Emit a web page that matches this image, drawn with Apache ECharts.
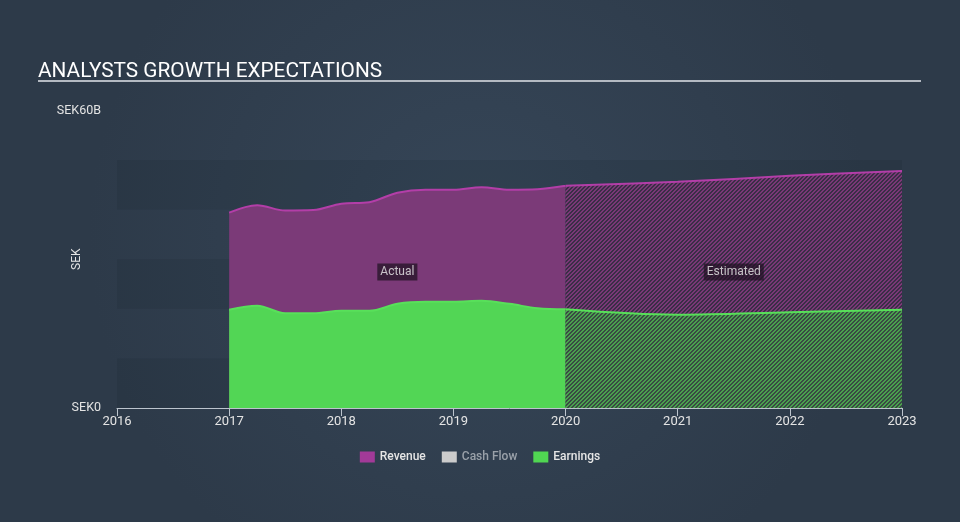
<!DOCTYPE html>
<html>
<head>
<meta charset="utf-8">
<script src="https://cdn.jsdelivr.net/npm/echarts@6/dist/echarts.min.js"></script>
<style>
html,body{margin:0;padding:0;background:#313f4f;}
#chart{width:960px;height:522px;}
</style>
</head>
<body>
<div id="chart"></div>
<script>
// ---- data (values in SEK billions, x in years) ----
var actualYears = [2017, 2017.25, 2017.5, 2017.75, 2018, 2018.25, 2018.5, 2018.75, 2019, 2019.25, 2019.5, 2019.75, 2020];
var revenueActual = [39.4, 40.9, 39.8, 39.9, 41.2, 41.5, 43.4, 44.0, 44.0, 44.5, 44.0, 44.1, 44.8];
var earningsActual = [19.8, 20.6, 19.1, 19.1, 19.6, 19.6, 21.0, 21.4, 21.4, 21.6, 21.0, 20.1, 19.9];
var estimateYears = [2020, 2021, 2022, 2023];
var revenueEstimate = [44.8, 45.6, 46.8, 47.8];
var earningsEstimate = [19.9, 18.8, 19.3, 19.8];
var bandRanges = [[0, 10], [20, 30], [40, 50]];
var periodLabels = ['Actual', 'Estimated'];
var periodLabelX = [2018.5, 2021.5];
var periodLabelY = 27.4;
var legendNames = ['Revenue', 'Cash Flow', 'Earnings'];

function pairs(xs, ys) { return xs.map(function (x, i) { return [x, ys[i]]; }); }

function hatch(light, dark) {
  var c = document.createElement('canvas');
  c.width = 8; c.height = 8;
  var ctx = c.getContext('2d');
  for (var y = 0; y < 8; y++) {
    for (var x = 0; x < 8; x++) {
      ctx.fillStyle = (((x + y) % 4) < 2) ? light : dark;
      ctx.fillRect(x, y, 1, 1);
    }
  }
  return { image: c, repeat: 'repeat' };
}

var purpleHatch = hatch('#7a3877', '#3a2e46');
var greenHatch = hatch('#4aa04e', '#394a43');

var chart = echarts.init(document.getElementById('chart'), null, { renderer: 'canvas' });

var option = {
  backgroundColor: {
    type: 'radial', x: 0.5, y: 0.45, r: 0.75,
    colorStops: [{ offset: 0, color: '#364658' }, { offset: 1, color: '#2d3a49' }]
  },
  animation: false,
  title: {
    text: 'ANALYSTS GROWTH EXPECTATIONS',
    left: 33, top: 56,
    textStyle: { color: '#ffffff', fontSize: 20.8, fontWeight: 'normal', fontFamily: 'Roboto' }
  },
  graphic: [{
    type: 'line', shape: { x1: 38, y1: 81, x2: 921, y2: 81 },
    style: { stroke: '#b4bac2', lineWidth: 2 }, silent: true
  }],
  legend: {
    bottom: 54, left: 'center',
    icon: 'rect', itemWidth: 15, itemHeight: 11, itemGap: 16,
    textStyle: { color: '#e6e6e6', fontSize: 12, fontFamily: 'Roboto', fontWeight: 500 },
    data: [
      { name: legendNames[0] },
      { name: legendNames[1], textStyle: { color: '#9aa1a9' } },
      { name: legendNames[2] }
    ],
    selectedMode: false
  },
  grid: { left: 117, right: 58, top: 110.4, bottom: 114, containLabel: false },
  xAxis: {
    type: 'value', min: 2016, max: 2023, interval: 1,
    axisLine: { show: true, lineStyle: { color: '#bcc4cd', width: 1 } },
    axisTick: { show: true, length: 8, lineStyle: { color: '#bcc4cd' } },
    axisLabel: { color: '#e4e4e4', fontSize: 13, fontFamily: 'Roboto', margin: 7,
      formatter: function (v) { return String(Math.round(v)); } },
    splitLine: { show: false }
  },
  yAxis: {
    type: 'value', min: 0, max: 60, interval: 60,
    name: 'SEK', nameLocation: 'middle', nameRotate: 90, nameGap: 34, nameMoveOverlap: false,
    nameTextStyle: { color: '#e4e4e4', fontSize: 12, fontFamily: 'Roboto' },
    axisLine: { show: false }, axisTick: { show: false },
    axisLabel: { color: '#e4e4e4', fontSize: 12.5, fontFamily: 'Roboto', margin: 16,
      formatter: function (v) { return v === 0 ? 'SEK0' : 'SEK' + v + 'B'; } },
    splitLine: { show: false }
  },
  series: [
    {
      name: 'bands', type: 'line', data: [], z: 1, silent: true,
      markArea: {
        silent: true,
        itemStyle: { color: 'rgba(24,33,44,0.14)' },
        label: { show: false },
        data: bandRanges.map(function (r) { return [{ coord: [2016, r[0]] }, { coord: [2023, r[1]] }]; })
      }
    },
    {
      name: 'Revenue', type: 'line', z: 2, smooth: 0.35, showSymbol: false,
      data: pairs(actualYears, revenueActual),
      itemStyle: { color: '#a23a98' },
      lineStyle: { color: '#b33ea8', width: 2 },
      areaStyle: { color: '#7b3a78', opacity: 1 }
    },
    {
      name: 'Revenue', type: 'line', z: 2, smooth: 0.35, showSymbol: false,
      data: pairs(estimateYears, revenueEstimate),
      itemStyle: { color: '#a23a98' },
      lineStyle: { color: '#b33ea8', width: 2 },
      areaStyle: { color: purpleHatch, opacity: 1 }
    },
    {
      name: 'Cash Flow', type: 'line', z: 2, data: [],
      itemStyle: { color: '#cccccc' }
    },
    {
      name: 'Earnings', type: 'line', z: 3, smooth: 0.35, showSymbol: false,
      data: pairs(actualYears, earningsActual),
      itemStyle: { color: '#50d652' },
      lineStyle: { color: '#58e05a', width: 2 },
      areaStyle: { color: '#52d655', opacity: 1 }
    },
    {
      name: 'Earnings', type: 'line', z: 3, smooth: 0.35, showSymbol: false,
      data: pairs(estimateYears, earningsEstimate),
      itemStyle: { color: '#50d652' },
      lineStyle: { color: '#58e05a', width: 2 },
      areaStyle: { color: greenHatch, opacity: 1 }
    },
    {
      name: 'labels', type: 'scatter', z: 5, symbolSize: 0, silent: true,
      data: periodLabels.map(function (t, i) { return { value: [periodLabelX[i], periodLabelY], name: t }; }),
      label: {
        show: true, position: 'inside', formatter: '{b}',
        color: '#ececec', fontSize: 12, fontFamily: 'Roboto',
        backgroundColor: 'rgba(32,18,34,0.9)', padding: [3, 3, 2, 3]
      }
    }
  ]
};
chart.setOption(option);
</script>
</body>
</html>
